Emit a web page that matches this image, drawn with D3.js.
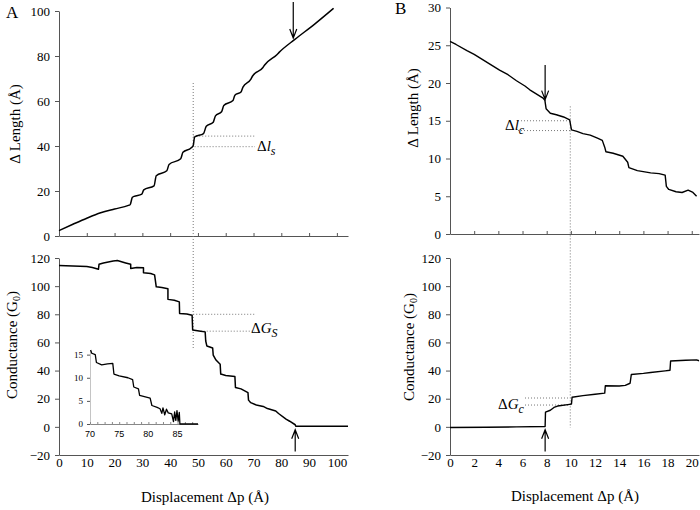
<!DOCTYPE html>
<html>
<head>
<meta charset="utf-8">
<script src="https://cdn.jsdelivr.net/npm/d3@7"></script>
<style>
 body{margin:0;background:#fff}
 text{font-family:"Liberation Serif","Times New Roman",serif;fill:#000}
</style>
</head>
<body>
<script>
// panel A, top: length change vs displacement
var lengthA = [[0,2.4],[5,5.2],[10,7.9],[15,10.3],[20,12.0],[25,13.6],[25.6,13.9],[26.4,17.2],[27,17.6],[29.8,18.6],[30.5,20.5],
 [34.2,22.3],[35,26.8],[38.8,29.0],[39.6,31.8],[43.8,34.3],[44.6,37.2],[47.6,39.2],[48.3,40.2],[48.8,44],[52,45.5],[53,48.8],
 [55.5,50.6],[56.3,53.4],[58.5,55.2],[59.3,58],[62.6,60.2],[63.3,62.6],[65.5,64],[66.2,66.2],[69,69.6],[69.6,71],[73.4,74.9],
 [74,76],[78.5,80.7],[79.2,81.6],[85,87.5],[92,94.2],[98.8,101.2]];
// panel A, bottom: conductance
var condA = [[0,114.6],[5,114.3],[10,113.9],[12,113.2],[14.2,112],[14.4,115.5],[16,116.5],[19.5,117.8],[21,118.2],[24,116.5],
 [25.8,115.5],[25.8,112.5],[28,113.2],[30.4,113],[30.4,109.6],[33,109],[34.4,108],[35,99.5],[37,99],[39.2,98.2],[39.2,90.6],
 [41.5,90],[43.3,88.8],[43.4,80.6],[46,80.2],[47.9,79.3],[48.1,68.8],[51,68],[52.6,67.5],[52.8,61],[53.2,57.5],[55.3,56],
 [55.5,51],[56.5,47.5],[58,44.5],[58.2,37.5],[60,36.5],[63.3,35.8],[63.5,28],[65.5,27],[68,24.3],[68.2,19],[69,17.2],[71,15.5],
 [73.5,14.5],[75,13],[78,11.3],[79,9.5],[81.7,5.5],[83,4],[85,1.5],[85.2,0.4],[104,0.4]];
// panel A, inset (zoom of the last part of condA)
var insetA = [[70.1,16],[70.3,15.3],[70.9,15.0],[71.1,13.3],[72,12.8],[73,13],[73.9,13.1],[74.1,10.8],[75,10.4],[76.5,10.0],
 [77.3,9.6],[77.5,8.0],[78.3,7.6],[78.5,6.2],[80.3,5.6],[80.6,4.0],[81.5,3.6],[82,3.3],[82.3,2.3],[82.5,3.5],[82.8,2.0],
 [83.1,3.2],[83.4,2.4],[84,2.2],[84.3,0.5],[84.5,2.6],[84.7,0.8],[84.9,2.9],[85.1,0.6],[85.3,2.5],[85.4,0],[88.5,0]];
// panel B, top
var lengthB = [[0,25.5],[0.5,25.1],[1.4,24.3],[2,23.8],[2.8,23.0],[3.5,22.3],[4.1,21.7],[4.8,21.1],[5.5,20.3],[6.2,19.6],
 [6.6,19.1],[7.2,18.5],[7.7,18.0],[7.85,17.7],[7.95,16.6],[8.3,16.0],[8.8,15.8],[9.4,15.5],[9.9,15.1],[10.05,13.8],[10.5,13.6],
 [11,13.3],[11.6,13.1],[12.2,12.7],[12.6,12.4],[12.8,11.5],[12.9,10.9],[13.5,10.7],[14.3,10.3],[14.7,9.5],[14.8,8.8],[15.5,8.4],
 [16.6,8.1],[17.3,8.0],[17.8,7.8],[17.9,6.3],[18.1,5.9],[18.7,5.6],[19.2,5.5],[19.7,5.8],[20.1,5.5],[20.4,5.0]];
// panel B, bottom
var condB = [[0,-0.5],[3,-0.3],[5.5,0],[7.87,0.3],[7.9,10.4],[8.3,11.8],[8.6,13.8],[8.9,14.8],[9.9,16.0],[10.05,16.2],[10.1,21.0],
 [11,22.2],[12,23.2],[12.8,24.0],[12.85,29.2],[14,29.0],[14.5,29.5],[14.9,31],[15.0,37.2],[16,38.0],[16.6,38.6],[17.8,39.8],
 [18.2,40.2],[18.25,46.8],[19.5,47.3],[20.4,47.6],[20.6,47]];

var ticksA = d3.range(0,101,10), ticksB = d3.range(0,21,2);
var lenTicksA = d3.range(0,101,20), lenTicksB = d3.range(0,31,5);
var condTicks = d3.range(-20,121,20);
var insetXTicks = [70,75,80,85], insetYTicks = [0,5,10,15];

var svg = d3.select("body").append("svg").attr("width",700).attr("height",510);

var xA = d3.scaleLinear().domain([0,104]).range([59,348]);
var xB = d3.scaleLinear().domain([0,20.6]).range([450,699]);
var yLenA = d3.scaleLinear().domain([0,100]).range([236,11]);
var yLenB = d3.scaleLinear().domain([0,30]).range([234,7.5]);
var yCond = d3.scaleLinear().domain([-20,120]).range([455,258]);

function styleAxis(g,size){
  g.attr("font-family",null).attr("font-size",size);
  g.select(".domain").attr("stroke","#555");
  g.selectAll(".tick line").attr("stroke","#555");
  g.selectAll(".tick text").attr("fill","#000");
}

function panel(x,y,yTicks,xTicks,labels,x0,y0){
  var ya = svg.append("g").attr("transform","translate("+x0+",0)")
    .call(d3.axisLeft(y).tickValues(yTicks).tickSize(4).tickPadding(5).tickSizeOuter(0));
  styleAxis(ya,13);
  var xa = svg.append("g").attr("transform","translate(0,"+y0+")");
  if(labels){
    xa.call(d3.axisBottom(x).tickValues(xTicks).tickSize(0).tickPadding(3).tickSizeOuter(0));
  } else {
    xa.call(d3.axisBottom(x).tickValues(xTicks).tickSize(-3).tickFormat("").tickSizeOuter(0));
  }
  styleAxis(xa,13);
}

panel(xA,yLenA,lenTicksA,ticksA,false,59,236);
panel(xA,yCond,condTicks,ticksA,true,59,455);
panel(xB,yLenB,lenTicksB,ticksB,false,450,234);
panel(xB,yCond,condTicks,ticksB,true,450,455);

function drawLine(data,x,y,curve,w){
  var line = d3.line().x(function(d){return x(d[0]);}).y(function(d){return y(d[1]);}).curve(curve);
  svg.append("path").attr("d",line(data)).attr("fill","none").attr("stroke","#000")
    .attr("stroke-width",w).attr("stroke-linejoin","round");
}

// dotted guide lines
function dotted(x1,y1,x2,y2){
  svg.append("line").attr("x1",x1).attr("y1",y1).attr("x2",x2).attr("y2",y2)
    .attr("stroke","#777").attr("stroke-width",1).attr("stroke-dasharray","1,2");
}
dotted(xA(48.3),yLenA(68),xA(48.3),yCond(56));
dotted(xA(48.3),yLenA(44.4),255,yLenA(44.4));
dotted(xA(48.8),yLenA(39.7),255,yLenA(39.7));
dotted(xA(48.3),yCond(80),255,yCond(80));
dotted(xA(51),yCond(68),255,yCond(68));
dotted(xB(9.95),yLenB(16.9),xB(9.95),yCond(-0.6));
dotted(518,yLenB(15.0),xB(9.95),yLenB(15.0));
dotted(518,yLenB(13.7),xB(9.95),yLenB(13.7));
dotted(525,yCond(20.5),xB(9.95),yCond(20.5));
dotted(525,yCond(15.5),xB(9.95),yCond(15.5));

drawLine(lengthA,xA,yLenA,d3.curveMonotoneX,1.5);
drawLine(condA,xA,yCond,d3.curveLinear,1.5);
drawLine(lengthB,xB,yLenB,d3.curveLinear,1.4);
drawLine(condB,xB,yCond,d3.curveLinear,1.4);

// inset
var xi = d3.scaleLinear().domain([70,88.5]).range([90,198]);
var yi = d3.scaleLinear().domain([0,16]).range([424,350]);
var iy = svg.append("g").attr("transform","translate(90,0)")
  .call(d3.axisLeft(yi).tickValues(insetYTicks).tickSize(3).tickPadding(4).tickSizeOuter(0));
styleAxis(iy,9);
iy.attr("font-family","Liberation Sans, Arial, sans-serif");
iy.select(".domain").attr("stroke","#888").attr("stroke-dasharray","1,1");
var ix = svg.append("g").attr("transform","translate(0,424)")
  .call(d3.axisBottom(xi).tickValues(d3.range(70,88.1,1.25)).tickSize(-2).tickFormat("").tickSizeOuter(0));
styleAxis(ix,9);
ix.select(".domain").attr("stroke","#888");
ix.selectAll(".tick line").attr("stroke","#888");
svg.append("g").selectAll("text").data(insetXTicks).enter().append("text")
  .attr("x",function(d){return xi(d);}).attr("y",437)
  .attr("text-anchor","middle").attr("font-size",9)
  .style("font-family","Liberation Sans, Arial, sans-serif").text(function(d){return d;});
drawLine(insetA,xi,yi,d3.curveLinear,1.3);

// arrows
function arrow(x,yTail,yTip){
  var dir = yTip > yTail ? -1 : 1;
  svg.append("path")
    .attr("d","M"+x+","+yTail+"L"+x+","+yTip+"M"+(x-3.5)+","+(yTip+dir*9)+"L"+x+","+yTip+"L"+(x+3.5)+","+(yTip+dir*9))
    .attr("fill","none").attr("stroke","#000").attr("stroke-width",1.2);
}
arrow(xA(84.3),yLenA(104),yLenA(88));
arrow(xA(85),yCond(-17.5),yCond(-2));
arrow(xB(7.87),yLenB(22.4),yLenB(17.8));
arrow(xB(7.87),yCond(-17.5),yCond(-2));

// panel letters
svg.append("text").attr("x",6).attr("y",18).attr("font-size",17).text("A");
svg.append("text").attr("x",395).attr("y",14).attr("font-size",17).text("B");

// axis titles
function ytitle(x,y,main,sub,tail){
  var t = svg.append("text").attr("transform","translate("+x+","+y+") rotate(-90)")
    .attr("text-anchor","middle").attr("font-size",15);
  t.append("tspan").text(main);
  if(sub){
    t.append("tspan").attr("font-size",10).attr("dy",3).text(sub);
    t.append("tspan").attr("dy",-3).text(tail);
  }
}
ytitle(20,124,"\u0394 Length (\u00C5)");
ytitle(418,108,"\u0394 Length (\u00C5)");
ytitle(17,345,"Conductance (G","0",")");
ytitle(414,347,"Conductance (G","0",")");
svg.append("text").attr("x",205).attr("y",502).attr("text-anchor","middle").attr("font-size",15).text("Displacement \u0394p (\u00C5)");
svg.append("text").attr("x",575).attr("y",501).attr("text-anchor","middle").attr("font-size",15).text("Displacement \u0394p (\u00C5)");

// delta annotations
function delta(x,y,letter,sub){
  var t = svg.append("text").attr("x",x).attr("y",y).attr("font-size",15);
  t.append("tspan").text("\u0394");
  t.append("tspan").attr("font-style","italic").text(letter);
  t.append("tspan").attr("font-style","italic").attr("font-size",12).attr("dy",4).text(sub);
}
delta(257,151,"l","s");
delta(251,333,"G","S");
delta(505,130,"l","c");
delta(498,409,"G","c");
</script>
</body>
</html>
